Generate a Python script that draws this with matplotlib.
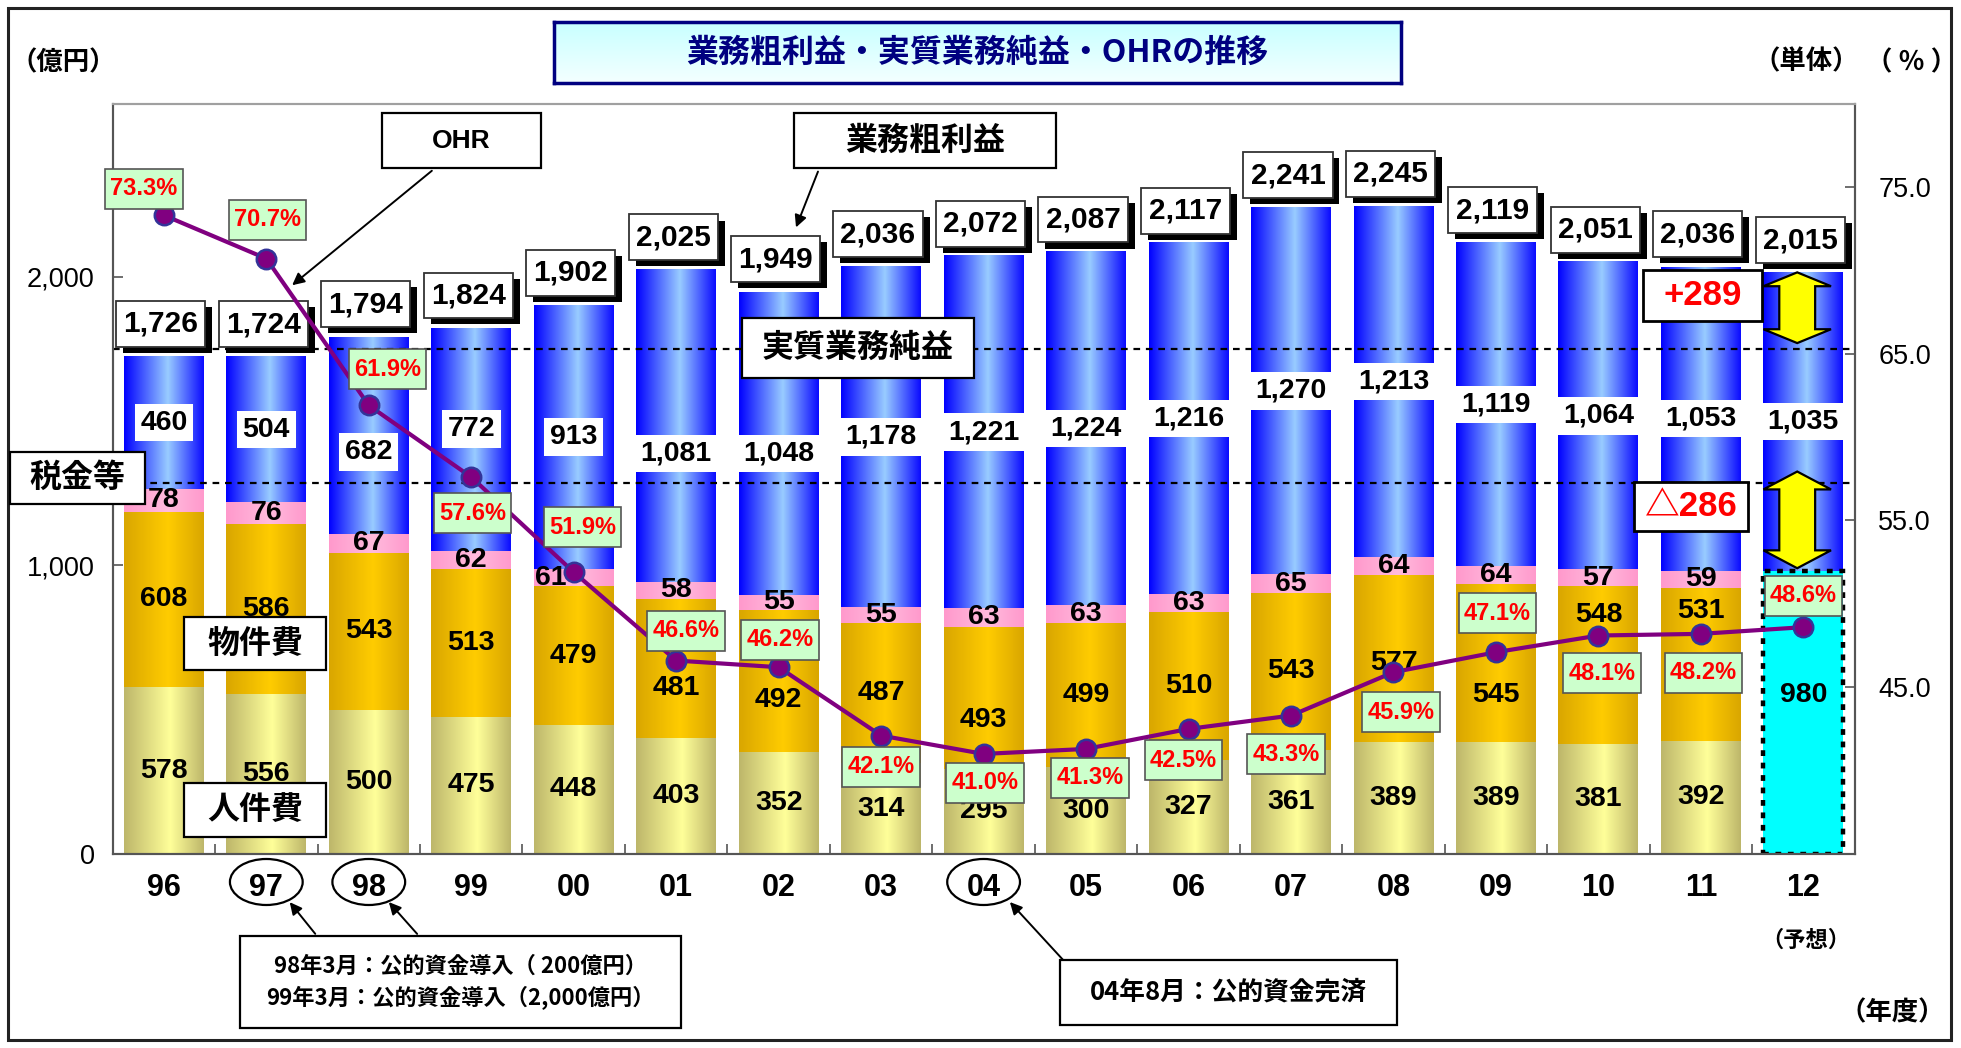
import numpy as np
import matplotlib
matplotlib.use('Agg')
import matplotlib.pyplot as plt
from matplotlib import font_manager
from matplotlib.patches import Rectangle, Ellipse, Polygon, FancyArrowPatch
from matplotlib.colors import LinearSegmentedColormap
from matplotlib.path import Path
import matplotlib.transforms as mtransforms

# ---------------- data ----------------
years = ['96', '97', '98', '99', '00', '01', '02', '03', '04', '05', '06', '07', '08', '09', '10', '11', '12']
personnel = [578, 556, 500, 475, 448, 403, 352, 314, 295, 300, 327, 361, 389, 389, 381, 392]
goods = [608, 586, 543, 513, 479, 481, 492, 487, 493, 499, 510, 543, 577, 545, 548, 531]
taxes = [78, 76, 67, 62, 61, 58, 55, 55, 63, 63, 63, 65, 64, 64, 57, 59]
expenses_forecast = 980  # FY12 forecast, total expenses
net_profit = [460, 504, 682, 772, 913, 1081, 1048, 1178, 1221, 1224, 1216, 1270, 1213, 1119, 1064, 1053, 1035]
gross_profit = [1726, 1724, 1794, 1824, 1902, 2025, 1949, 2036, 2072, 2087, 2117, 2241, 2245, 2119, 2051, 2036, 2015]
ohr = [73.3, 70.7, 61.9, 57.6, 51.9, 46.6, 46.2, 42.1, 41.0, 41.3, 42.5, 43.3, 45.9, 47.1, 48.1, 48.2, 48.6]
ref_levels = [1750, 1285]

# ---------------- layout (label nudges, not data) ----------------
net_label_shift = [0, 0, -59, 37, 0, -96, -36, 0, 0, 0, 0, 0, 0, 0, 0, 0, 0]
goods_label_shift = [0, 0, 0, 0, 0, -68, -65, 0, -77, 0, 0, 0, -16, -110, 173, 184]
taxes_label_dx = [0, 0, 0, 0, -0.22, 0, 0, 0, 0, 0, 0, 0, 0, 0, 0, 0]
ohr_label_offset = [(-16, -21), (1, -31), (15, -29), (1, 29), (7, -36), (8, -24), (1, -22), (0, 25),
                    (1, 23), (3, 23), (-4, 25), (-4, 31), (6, 32), (1, -31), (3, 30), (2, 31), (0, -25)]

names = {f.name for f in font_manager.fontManager.ttflist}
NUM = 'Liberation Sans'
NARROW = 'Liberation Sans Narrow' if 'Liberation Sans Narrow' in names else 'Liberation Sans'
NARROW_FS = 20.5 if NARROW == 'Liberation Sans Narrow' else 17
JP = 'Noto Sans CJK JP'
plt.rcParams['font.family'] = [JP, 'DejaVu Sans']

W, H = 1961, 1048
fig = plt.figure(figsize=(W / 100, H / 100), dpi=100)


def fx(px):
    return px / W


def fy(py):
    return 1 - py / H


ax = fig.add_axes([fx(112.6), fy(854), fx(1854.6) - fx(112.6), fy(103.5) - fy(854)])
ax2 = ax.twinx()

n = len(years)
x = np.arange(n)
hist = len(personnel)
bw = 0.78
p = np.array(personnel)
g = np.array(goods)
t = np.array(taxes)
exp_all = list(p + g + t) + [expenses_forecast]

b_p = ax.bar(x[:hist], p, bw, color='none', edgecolor='none')
b_g = ax.bar(x[:hist], g, bw, bottom=p, color='none', edgecolor='none')
b_t = ax.bar(x[:hist], t, bw, bottom=p + g, color='none', edgecolor='none')
b_n = ax.bar(x, net_profit, bw, bottom=exp_all, color='none', edgecolor='none')
b_f = ax.bar(x[-1:], [expenses_forecast], bw, color='#00FFFF', edgecolor='black',
             linewidth=3.2, linestyle=(0, (1.3, 1.5)), zorder=2.5)

grad = np.linspace(0, 1, 256).reshape(1, -1)


def fill_gradient(bars, stops, z=2):
    cmap = LinearSegmentedColormap.from_list('g', stops)
    for r in bars:
        x0, y0 = r.get_x(), r.get_y()
        ax.imshow(grad, cmap=cmap, extent=[x0, x0 + r.get_width(), y0, y0 + r.get_height()],
                  aspect='auto', interpolation='bilinear', zorder=z)


fill_gradient(b_p, [(0, '#BDB66A'), (0.58, '#FFFF99'), (1, '#BDB66A')])
fill_gradient(b_g, [(0, '#D9A600'), (0.55, '#FFCC00'), (1, '#D9A600')])
fill_gradient(b_t, [(0, '#FF99CC'), (0.55, '#FFBBDD'), (1, '#FF99CC')])
fill_gradient(b_n, [(0, '#0000FF'), (0.55, '#99CCFF'), (1, '#0A0AFF')])

# dashed reference lines
for lvl in ref_levels:
    ax.axhline(lvl, color='black', lw=1.6, ls=(0, (3, 2.6)), zorder=3)

# segment labels
seg_kw = dict(ha='center', va='center', fontsize=20.5, fontweight='bold', family=[NUM, 'DejaVu Sans'], zorder=4)
for i in range(hist):
    ax.text(i, p[i] / 2, f'{p[i]:,}', **seg_kw)
    ax.text(i, p[i] + g[i] / 2 + goods_label_shift[i], f'{g[i]:,}', **seg_kw)
    ax.text(i + taxes_label_dx[i], p[i] + g[i] + t[i] / 2, f'{t[i]:,}', **seg_kw)
ax.text(x[-1], expenses_forecast / 2 + 60, f'{expenses_forecast:,}', **seg_kw)
for i in range(n):
    ax.text(i, exp_all[i] + net_profit[i] / 2 + net_label_shift[i], f'{net_profit[i]:,}',
            bbox=dict(boxstyle='square,pad=0.2', fc='white', ec='none'), **seg_kw)

# total (gross profit) label boxes with shadow
box_w, box_h, box_off = 0.87, 159, 111
for i, gp in enumerate(gross_profit):
    cy = gp + box_off
    bx = i - 0.03
    ax.add_patch(Rectangle((bx - box_w / 2 + 0.068, cy - box_h / 2 - 21), box_w, box_h, fc='black', ec='none',
                           zorder=5, clip_on=False))
    ax.add_patch(Rectangle((bx - box_w / 2, cy - box_h / 2), box_w, box_h, fc='white', ec='#333333', lw=1.3,
                           zorder=5.1, clip_on=False))
    ax.text(bx, cy, f'{gp:,}', ha='center', va='center', fontsize=21.5, fontweight='bold',
            family=[NUM, 'DejaVu Sans'], zorder=5.2)


# yellow double arrows for FY12
def double_arrow(xc, y_top, y_bot, hl):
    sw, hw = 0.175, 0.33
    pts = [(xc, y_top), (xc + hw, y_top - hl), (xc + sw, y_top - hl), (xc + sw, y_bot + hl),
           (xc + hw, y_bot + hl), (xc, y_bot), (xc - hw, y_bot + hl), (xc - sw, y_bot + hl),
           (xc - sw, y_top - hl), (xc - hw, y_top - hl)]
    ax.add_patch(Polygon(pts, closed=True, fc='#FFFF00', ec='black', lw=1.6, zorder=5.5))


double_arrow(x[-1] - 0.06, gross_profit[-1], ref_levels[0] + 20, 48)
double_arrow(x[-1] - 0.06, ref_levels[1] + 40, expenses_forecast + 10, 62)


# OHR label box: wider vertical padding than horizontal
def ohr_box(x0, y0, width, height, mutation_size):
    px, py = 0.22 * mutation_size, 0.36 * mutation_size
    return Path([(x0 - px, y0 - py), (x0 + width + px, y0 - py), (x0 + width + px, y0 + height + py),
                 (x0 - px, y0 + height + py), (x0 - px, y0 - py)],
                [Path.MOVETO, Path.LINETO, Path.LINETO, Path.LINETO, Path.CLOSEPOLY])


# OHR line
ax2.plot(x, ohr, color='#800080', lw=3, marker='o', ms=14, mfc='#800080', mec='#333399', mew=1.8, zorder=3)
for i, v in enumerate(ohr):
    dx, dy = ohr_label_offset[i]
    ax2.annotate(f'{v:.1f}%', (i, v), xytext=(dx * 0.9, -dy * 0.9), textcoords='offset points',
                 ha='center', va='center', color='#FF0000', fontsize=NARROW_FS, fontweight='bold',
                 family=[NARROW, 'DejaVu Sans'],
                 bbox=dict(boxstyle=ohr_box, fc='#CCFFCC', ec='#555555', lw=1.2), zorder=6)

# axes styling
ax.set_xlim(-0.5, n - 0.5)
ax.set_ylim(0, 2600)
ax2.set_ylim(35, 80)
ax.set_xticks(x)
ax.set_xticklabels(years)
ax.set_xticks(np.arange(0.5, n - 1, 1), minor=True)
ax.tick_params(axis='x', which='major', length=0, pad=14, labelsize=22, labelfontfamily=NUM)
ax.tick_params(axis='x', which='minor', direction='in', length=7, color='#555555', width=1.2)
for lbl in ax.get_xticklabels():
    lbl.set_fontweight('bold')
ax.set_yticks([0, 1000, 2000])
ax.set_yticklabels(['0', '1,000', '2,000'])
ax.tick_params(axis='y', direction='in', length=7, width=1.2, color='#555555', pad=13, labelsize=19.5,
               labelfontfamily=NUM)
ax2.set_yticks([45, 55, 65, 75])
ax2.set_yticklabels(['45.0', '55.0', '65.0', '75.0'])
ax2.tick_params(axis='y', direction='in', length=7, width=1.2, color='#555555', pad=17, labelsize=19.5,
                labelfontfamily=NUM)
for a in (ax, ax2):
    for s in a.spines.values():
        s.set_color('#555555')
        s.set_linewidth(1.5)
    a.spines['top'].set_color('#A0A0A0')

# ellipses around 97, 98, 04
blend = mtransforms.blended_transform_factory(ax.transData, ax.transAxes)
for yr in ['97', '98', '04']:
    ax.add_patch(Ellipse((years.index(yr), -0.0373), 0.71, 0.0613, transform=blend, fc='none', ec='black',
                         lw=1.6, clip_on=False, zorder=6))

# ---------------- figure-level annotations ----------------
fig.add_artist(Rectangle((fx(8), fy(1040)), fx(1951) - fx(8), fy(8) - fy(1040), transform=fig.transFigure,
                         fc='none', ec='#222222', lw=2.2, zorder=0.5))

# title box with gradient
tax_ = fig.add_axes([fx(554), fy(83), fx(1401) - fx(554), fy(22) - fy(83)])
tax_.imshow(np.linspace(0, 1, 64).reshape(-1, 1),
            cmap=LinearSegmentedColormap.from_list('t', ['#C8FFFF', '#F4FFFF']),
            aspect='auto', extent=[0, 1, 0, 1])
tax_.set_xticks([])
tax_.set_yticks([])
for s in tax_.spines.values():
    s.set_color('#000080')
    s.set_linewidth(2.5)
tax_.text(0.5, 0.5, '業務粗利益・実質業務純益・OHRの推移', ha='center', va='center', fontsize=23,
          fontweight='bold', color='#000080', transform=tax_.transAxes)


def fig_box(x0, y0, x1, y1, text, fs, color='black', family=None, lw=1.6, weight='bold'):
    fig.add_artist(Rectangle((fx(x0), fy(y1)), fx(x1) - fx(x0), fy(y0) - fy(y1), transform=fig.transFigure,
                             fc='white', ec='black', lw=lw, zorder=10))
    kw = dict(ha='center', va='center', fontsize=fs, fontweight=weight, color=color, zorder=11,
              linespacing=1.45)
    if family is not None:
        kw['family'] = family
    fig.text(fx((x0 + x1) / 2), fy((y0 + y1) / 2), text, **kw)


def fig_arrow(a, b):
    fig.add_artist(FancyArrowPatch((fx(a[0]), fy(a[1])), (fx(b[0]), fy(b[1])), transform=fig.transFigure,
                                   arrowstyle='-|>', mutation_scale=18, color='black', lw=1.4, zorder=9))


fig_box(382, 113, 541, 168, 'OHR', 19, family=[NUM, 'DejaVu Sans'])
fig_arrow((434, 169), (290, 287))
fig_box(794, 113, 1056, 168, '業務粗利益', 23)
fig_arrow((819, 169), (795, 230))
fig_box(742, 318, 974, 378, '実質業務純益', 23)
fig_box(10, 452, 145, 504, '税金等', 23)
fig_box(184, 617, 326, 670, '物件費', 23)
fig_box(184, 783, 326, 837, '人件費', 23)
fig_box(1643, 270, 1762, 321, f'+{gross_profit[-1] - gross_profit[0]}', 25, color='#FF0000',
        family=[NUM, JP], lw=2)
fig_box(1634, 482, 1748, 531, f'△{gross_profit[0] - net_profit[0] - expenses_forecast}', 25, color='#FF0000',
        family=[NUM, JP], lw=2)
fig_box(240, 936, 681, 1028, '98年3月：公的資金導入（ 200億円）\n99年3月：公的資金導入（2,000億円）', 16)
fig_arrow((317, 936), (288, 900))
fig_arrow((419, 936), (387, 900))
fig_box(1060, 960, 1397, 1025, '04年8月：公的資金完済', 18.5)
fig_arrow((1065, 962), (1008, 900))

unit_kw = dict(ha='center', va='center', fontweight='bold', fontsize=19)
fig.text(fx(63), fy(63), '（億円）', **unit_kw)
fig.text(fx(1806), fy(62), '（単体）', **unit_kw)
fig.text(fx(1912), fy(63), '（ ％ ）', **unit_kw)
fig.text(fx(1892), fy(1013), '（年度）', **unit_kw)
fig.text(fx(1806), fy(940), '（予想）', ha='center', va='center', fontweight='bold', fontsize=16)

fig.savefig('out.png', dpi=100)
